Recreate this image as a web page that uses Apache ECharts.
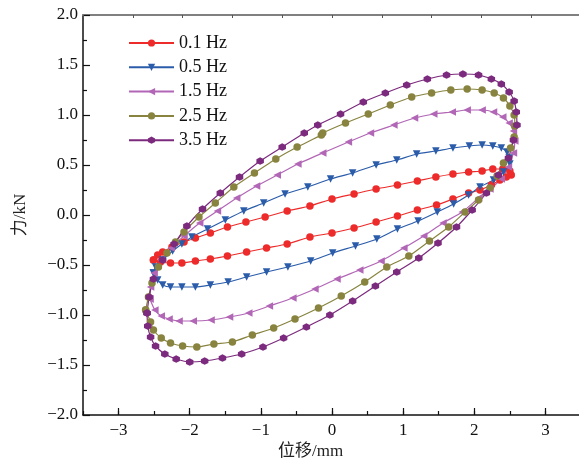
<!DOCTYPE html>
<html>
<head>
<meta charset="utf-8">
<script src="https://cdn.jsdelivr.net/npm/echarts@6/dist/echarts.min.js"></script>
<style>
  html, body { margin: 0; padding: 0; background: #fff; }
  #chart { width: 579px; height: 466px; }
</style>
</head>
<body>
<div id="chart"></div>
<script>
var chartDom = document.getElementById('chart');
var myChart = echarts.init(chartDom);
var option;

// displacement (mm), force (kN) pairs
const names = ['0.1 Hz', '0.5 Hz', '1.5 Hz', '2.5 Hz', '3.5 Hz'];
const loop01 = [
  [-2.51,-0.45],[-2.45,-0.40],[-2.38,-0.37],[-2.25,-0.32],[-2.08,-0.27],[-1.92,-0.23],[-1.71,-0.18],[-1.47,-0.12],
  [-1.21,-0.07],[-0.94,-0.02],[-0.63,0.04],[-0.31,0.09],[0.00,0.16],[0.31,0.21],[0.62,0.26],[0.92,0.30],[1.20,0.34],
  [1.46,0.38],[1.70,0.41],[1.92,0.43],[2.11,0.44],[2.26,0.46],[2.40,0.46],[2.50,0.44],[2.52,0.40],[2.45,0.38],
  [2.36,0.35],[2.24,0.30],[2.08,0.25],[1.92,0.22],[1.70,0.16],[1.47,0.10],[1.20,0.05],[0.92,-0.01],[0.62,-0.07],
  [0.31,-0.13],[0.00,-0.18],[-0.31,-0.22],[-0.63,-0.29],[-0.92,-0.33],[-1.20,-0.37],[-1.47,-0.41],[-1.71,-0.44],
  [-1.92,-0.46],[-2.11,-0.48],[-2.27,-0.48],[-2.41,-0.47],[-2.51,-0.45]
];
const loop05 = [
  [-2.51,-0.58],[-2.48,-0.52],[-2.38,-0.45],[-2.24,-0.36],[-2.11,-0.29],[-1.97,-0.22],[-1.75,-0.14],[-1.50,-0.05],
  [-1.24,0.04],[-0.96,0.12],[-0.66,0.21],[-0.34,0.28],[-0.02,0.36],[0.29,0.42],[0.62,0.50],[0.91,0.55],[1.19,0.61],
  [1.46,0.64],[1.70,0.67],[1.93,0.69],[2.11,0.70],[2.26,0.69],[2.38,0.67],[2.46,0.63],[2.49,0.57],[2.50,0.51],
  [2.41,0.43],[2.27,0.35],[2.08,0.28],[1.92,0.20],[1.71,0.11],[1.48,0.03],[1.21,-0.06],[0.92,-0.14],[0.63,-0.24],
  [0.33,-0.31],[0.01,-0.38],[-0.30,-0.46],[-0.62,-0.52],[-0.92,-0.57],[-1.20,-0.62],[-1.46,-0.67],[-1.71,-0.70],
  [-1.92,-0.72],[-2.11,-0.72],[-2.27,-0.72],[-2.38,-0.70],[-2.45,-0.65],[-2.51,-0.58]
];
const loop15 = [
  [-2.56,-0.84],[-2.55,-0.72],[-2.50,-0.58],[-2.40,-0.45],[-2.26,-0.33],[-2.08,-0.21],[-1.86,-0.08],[-1.61,0.04],
  [-1.34,0.17],[-1.06,0.29],[-0.77,0.40],[-0.48,0.51],[-0.13,0.62],[0.23,0.73],[0.54,0.82],[0.87,0.90],[1.16,0.97],
  [1.43,1.01],[1.69,1.03],[1.90,1.05],[2.11,1.05],[2.27,1.03],[2.40,0.98],[2.49,0.92],[2.55,0.84],[2.57,0.74],
  [2.55,0.62],[2.48,0.48],[2.38,0.36],[2.22,0.26],[2.06,0.17],[1.83,0.03],[1.56,-0.08],[1.29,-0.21],[1.01,-0.33],
  [0.69,-0.46],[0.39,-0.55],[0.07,-0.64],[-0.24,-0.74],[-0.55,-0.83],[-0.88,-0.91],[-1.17,-0.98],[-1.44,-1.02],
  [-1.70,-1.05],[-1.95,-1.06],[-2.15,-1.06],[-2.29,-1.04],[-2.40,-1.01],[-2.49,-0.95],[-2.56,-0.84]
];
const loop25 = [
  [-2.62,-0.95],[-2.58,-0.82],[-2.53,-0.68],[-2.44,-0.52],[-2.32,-0.38],[-2.20,-0.27],[-2.08,-0.17],[-1.87,-0.02],
  [-1.64,0.12],[-1.38,0.28],[-1.09,0.42],[-0.79,0.56],[-0.49,0.68],[-0.15,0.80],[-0.13,0.82],[0.19,0.92],[0.51,1.01],
  [0.82,1.10],[1.12,1.18],[1.40,1.22],[1.67,1.25],[1.90,1.26],[2.11,1.25],[2.28,1.22],[2.41,1.17],[2.50,1.09],
  [2.56,1.00],[2.57,0.89],[2.56,0.78],[2.51,0.67],[2.41,0.52],[2.32,0.39],[2.22,0.27],[2.06,0.15],[1.87,0.03],
  [1.64,-0.12],[1.37,-0.26],[1.08,-0.41],[0.77,-0.52],[0.46,-0.67],[0.13,-0.81],[-0.19,-0.93],[-0.52,-1.04],
  [-0.82,-1.13],[-1.12,-1.20],[-1.40,-1.27],[-1.66,-1.29],[-1.90,-1.32],[-2.10,-1.31],[-2.27,-1.28],[-2.40,-1.23],
  [-2.51,-1.15],[-2.55,-1.07],[-2.62,-0.95]
];
const loop35 = [
  [-2.60,-0.98],[-2.57,-0.82],[-2.51,-0.64],[-2.38,-0.45],[-2.22,-0.29],[-2.04,-0.11],[-1.82,0.06],[-1.57,0.22],
  [-1.30,0.38],[-1.01,0.54],[-0.70,0.68],[-0.39,0.82],[-0.20,0.90],[0.12,1.01],[0.44,1.13],[0.75,1.22],[1.05,1.30],
  [1.34,1.36],[1.61,1.40],[1.84,1.41],[2.06,1.40],[2.24,1.36],[2.38,1.31],[2.49,1.23],[2.56,1.14],[2.59,1.03],
  [2.60,0.90],[2.55,0.75],[2.48,0.57],[2.34,0.40],[2.17,0.22],[1.97,0.05],[1.75,-0.12],[1.49,-0.28],[1.22,-0.43],
  [0.91,-0.57],[0.61,-0.71],[0.29,-0.86],[-0.03,-1.00],[-0.36,-1.12],[-0.68,-1.23],[-0.97,-1.32],[-1.27,-1.39],
  [-1.54,-1.43],[-1.79,-1.46],[-2.00,-1.47],[-2.19,-1.44],[-2.35,-1.39],[-2.48,-1.31],[-2.55,-1.22],[-2.59,-1.11],
  [-2.60,-0.98]
];
const loops = [loop01, loop05, loop15, loop25, loop35];
const xMajorTicks = [-3, -2, -1, 0, 1, 2, 3];

const colors = ['#ee2b2b', '#2b5caa', '#b266b6', '#88843f', '#7c2a7e'];
const hexagon = 'path://M0,-1L0.866,-0.5L0.866,0.5L0,1L-0.866,0.5L-0.866,-0.5Z';
const symbols = ['circle', 'triangle', 'triangle', 'circle', hexagon];
const rotates = [0, 180, 90, 0, 0];

const serif = '"Liberation Serif", "Times New Roman", "Noto Sans CJK SC", serif';
const minus = (s) => String(s).replace('-', '\u2212');

const series = loops.map((d, i) => ({
  name: names[i],
  type: 'line',
  data: d,
  xAxisIndex: 0,
  yAxisIndex: 0,
  smooth: 0.2,
  symbol: symbols[i],
  symbolRotate: rotates[i],
  symbolSize: 7.5,
  showAllSymbol: true,
  lineStyle: { color: colors[i], width: 1.2 },
  itemStyle: { color: colors[i] },
  emphasis: { disabled: true }
}));

option = {
  animation: false,
  backgroundColor: '#fff',
  grid: { left: 83, right: -2, top: 15, bottom: 51, outerBoundsMode: 'none' },
  legend: {
    orient: 'vertical',
    left: 123,
    top: 29,
    itemWidth: 45,
    itemHeight: 9,
    itemGap: 6.3,
    textStyle: { fontFamily: serif, fontSize: 18, color: '#111' },
    data: names
  },
  xAxis: [
    {
      type: 'value', position: 'bottom', min: -3.5, max: 3.5, interval: 0.5,
      axisLine: { onZero: false, lineStyle: { color: '#111', width: 1.5 } },
      axisTick: { inside: true, length: 4, lineStyle: { color: '#111', width: 1.2 } },
      axisLabel: {
        margin: 7, fontFamily: serif, fontSize: 17, color: '#111',
        formatter: (v) => (Number.isInteger(v) && v > -3.5 && v < 3.5 ? minus(v) : '')
      },
      splitLine: { show: false }
    },
    {
      type: 'value', position: 'bottom', min: -3.5, max: 3.5,
      axisLine: { show: false, onZero: false },
      axisTick: { inside: true, length: 7, customValues: xMajorTicks, lineStyle: { color: '#111', width: 1.2 } },
      axisLabel: { show: false },
      splitLine: { show: false }
    },
    {
      type: 'value', position: 'top', min: 0, max: 10, interval: 1,
      axisLine: { onZero: false, lineStyle: { color: '#808080', width: 2 } },
      axisTick: { inside: true, length: 3, lineStyle: { color: '#555', width: 1 } },
      axisLabel: { show: false },
      splitLine: { show: false }
    }
  ],
  yAxis: {
    type: 'value', min: -2, max: 2, interval: 0.5,
    name: '力/kN',
    nameLocation: 'middle',
    nameGap: 54,
    nameTextStyle: { fontFamily: serif, fontSize: 17, color: '#222' },
    axisLine: { onZero: false, lineStyle: { color: '#111', width: 1.5 } },
    axisTick: { inside: true, length: 7, lineStyle: { color: '#111', width: 1.2 } },
    minorTick: { show: true, splitNumber: 2, length: 4, lineStyle: { color: '#111', width: 1.2 } },
    axisLabel: {
      margin: 5, fontFamily: serif, fontSize: 17, color: '#111',
      formatter: (v) => minus(v.toFixed(1))
    },
    splitLine: { show: false }
  },
  graphic: [
    {
      type: 'text', left: 278, top: 443,
      style: { text: '位移/mm', font: '17px ' + serif, fill: '#222' }
    }
  ],
  series
};

option && myChart.setOption(option);
</script>
</body>
</html>
